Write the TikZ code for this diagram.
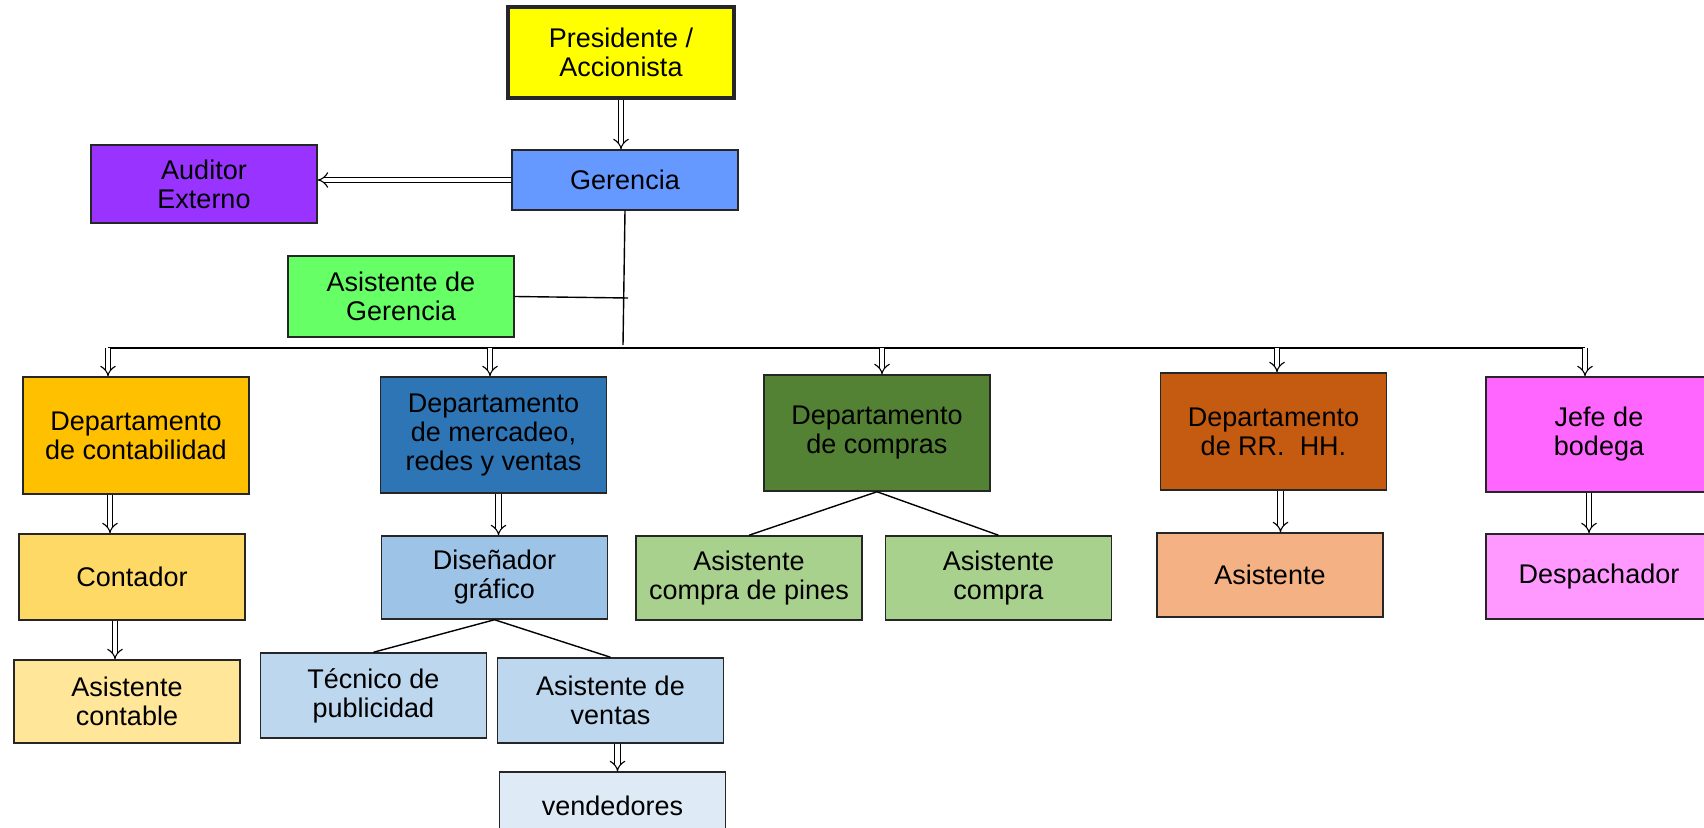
\documentclass[tikz,border=0pt]{standalone}
\usepackage{fontspec}
\setmainfont{Liberation Sans}
\usetikzlibrary{arrows.meta,calc}
\definecolor{cPres}{HTML}{FFFF00}
\definecolor{cGer}{HTML}{6699FF}
\definecolor{cAud}{HTML}{9933FF}
\definecolor{cAG}{HTML}{66FF66}
\definecolor{cCont}{HTML}{FFC000}
\definecolor{cMerc}{HTML}{2E75B6}
\definecolor{cComp}{HTML}{548235}
\definecolor{cRRHH}{HTML}{C55A11}
\definecolor{cBod}{HTML}{FF66FF}
\definecolor{cContador}{HTML}{FFD966}
\definecolor{cAsCont}{HTML}{FFE699}
\definecolor{cDis}{HTML}{9DC3E6}
\definecolor{cTec}{HTML}{BDD7EE}
\definecolor{cVend}{HTML}{DEEBF7}
\definecolor{cAsComp}{HTML}{A9D18E}
\definecolor{cAsis}{HTML}{F4B183}
\definecolor{cDesp}{HTML}{FF99FF}
\begin{document}
\begin{tikzpicture}[x=0.5pt,y=-0.5pt,
  box/.style={draw=black!85, line width=0.75pt, inner sep=0pt, align=center,
    minimum width=113pt, font=\fontsize{13.5}{14.5}\selectfont},
  dbl/.style={double, double distance=2.2pt, line width=0.55pt, -{Implies}},
  ln/.style={line width=0.7pt}]
\useasboundingbox (0,0) rectangle (1704,828);
% nodes
\node[box, fill=cPres, line width=2pt, minimum height=45.5pt] (pres) at (621,52.5) {Presidente /\\Accionista};
\node[box, fill=cGer, minimum height=30pt] (ger) at (625,180) {Gerencia};
\node[box, fill=cAud, minimum height=39pt] (aud) at (204,184) {Auditor\\Externo};
\node[box, fill=cAG, minimum height=40.5pt] (ag) at (401,296.5) {Asistente de\\Gerencia};
\node[box, fill=cCont, minimum height=58.5pt] (cont) at (136,435.5) {Departamento\\de contabilidad};
\node[box, fill=cMerc, minimum height=58pt] (merc) at (493.5,435) {Departamento\\de mercadeo,\\redes y ventas};
\node[box, fill=cComp, minimum height=58pt] (comp) at (877,433) {\raisebox{-4pt}{\parbox{110pt}{\centering Departamento\\de compras}}};
\node[box, fill=cRRHH, minimum height=58.5pt] (rrhh) at (1273.5,431.5) {Departamento\\de RR.~ HH.};
\node[box, fill=cBod, minimum height=57.5pt] (bod) at (1599,434.5) {Jefe de\\bodega};
\node[box, fill=cContador, minimum height=43pt] (contador) at (132,577) {Contador};
\node[box, fill=cAsCont, minimum height=41.5pt] (ascont) at (127,701.5) {Asistente\\contable};
\node[box, fill=cDis, minimum height=41.5pt] (dis) at (494.5,577.5) {Diseñador\\gráfico};
\node[box, fill=cTec, minimum height=42.5pt] (tec) at (373.5,695.5) {Técnico de\\publicidad};
\node[box, fill=cTec, minimum height=42.5pt] (av) at (610.5,700.5) {Asistente de\\ventas};
\node[box, fill=cVend, minimum height=34pt] (vend) at (612.5,806) {vendedores};
\node[box, fill=cAsComp, minimum height=42pt] (ap) at (749,578) {Asistente\\compra de pines};
\node[box, fill=cAsComp, minimum height=42pt] (ac) at (998.5,578) {Asistente\\compra};
\node[box, fill=cAsis, minimum height=42pt] (asis) at (1270,575) {Asistente};
\node[box, fill=cDesp, minimum height=42.5pt] (desp) at (1599,576.5) {Despachador};
% coordinates
\coordinate (gbot) at (623,345);
\coordinate (agr) at (628,298);
\coordinate (b1) at (108,348);
\coordinate (b2) at (490,348);
\coordinate (b3) at (882,348);
\coordinate (b4) at (1277,348);
\coordinate (b5) at (1585,348);
% connectors
\draw[dbl] (pres.south) -- (pres.south |- ger.north);
\draw[dbl] (ger.west) -- (ger.west -| aud.east);
\draw[ln] (ger.south) -- (gbot);
\draw[ln] (ag.east) -- (agr);
\draw[ln] (b1) -- (b5);
\draw[dbl] (b1) -- (b1 |- cont.north);
\draw[dbl] (b2) -- (b2 |- merc.north);
\draw[dbl] (b3) -- (b3 |- comp.north);
\draw[dbl] (b4) -- (b4 |- rrhh.north);
\draw[dbl] (b5) -- (b5 |- bod.north);
\draw[dbl] ($(cont.south)+(-26,0)$) coordinate (t1) -- (t1 |- contador.north);
\draw[dbl] ($(contador.south)+(-17,0)$) coordinate (t2) -- (t2 |- ascont.north);
\draw[dbl] ($(merc.south)+(5,0)$) coordinate (t3) -- (t3 |- dis.north);
\draw[dbl] ($(rrhh.south)+(7,0)$) coordinate (t4) -- (t4 |- asis.north);
\draw[dbl] ($(bod.south)+(-10,0)$) coordinate (t5) -- (t5 |- desp.north);
\draw[dbl] ($(av.south)+(7,0)$) coordinate (t6) -- (t6 |- vend.north);
\draw[ln] (dis.south) -- (tec.north);
\draw[ln] (dis.south) -- (av.north);
\draw[ln] (comp.south) -- (ap.north);
\draw[ln] (comp.south) -- (ac.north);
\end{tikzpicture}
\end{document}
